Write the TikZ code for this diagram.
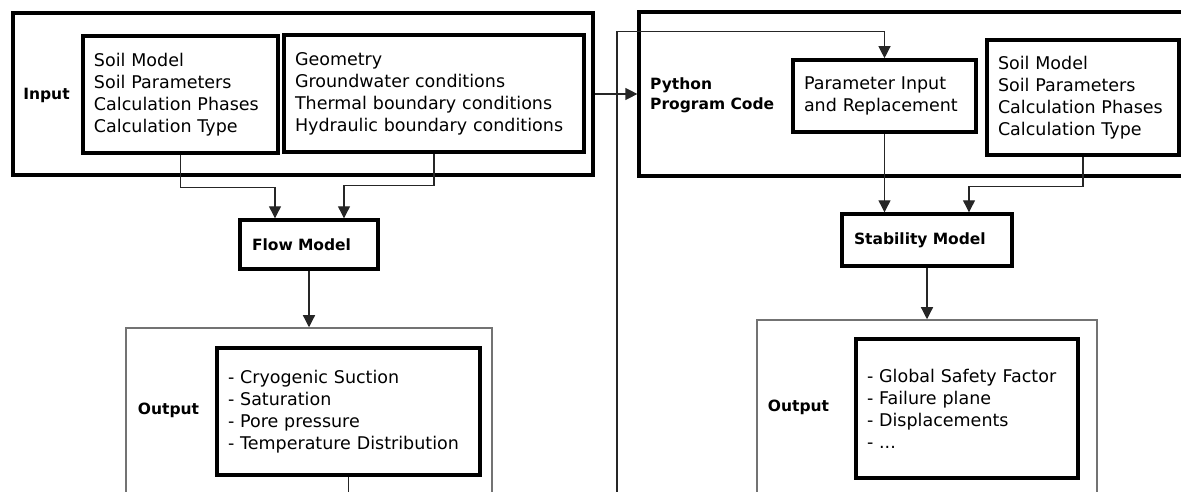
\documentclass[tikz,border=0pt]{standalone}
\usepackage{fontspec}
\setmainfont{DejaVu Sans}
\usetikzlibrary{arrows.meta,calc}

\newcommand\boxfont{\fontsize{17.5bp}{22bp}\selectfont}
\newcommand\tagfont{\bfseries\fontsize{15.5bp}{20bp}\selectfont}

\tikzset{
  outerbox/.style={draw,line width=3.2bp,inner sep=0pt},
  listbox/.style={draw,line width=3.6bp,align=left,inner xsep=11bp,inner ysep=0pt,font=\boxfont},
  modelbox/.style={draw,line width=3.4bp,align=left,inner xsep=12bp,inner ysep=0pt,font=\tagfont},
  resultbox/.style={draw=black!55,line width=1.5bp,inner sep=0pt},
  tag/.style={font=\tagfont,align=left,inner sep=0pt},
  link/.style={draw=black!85,line width=1.2bp},
  flowline/.style={link,-{Triangle[length=12bp,width=12bp]}}
}

\begin{document}
\begin{tikzpicture}[x=1bp,y=-1bp]
\useasboundingbox (0,0) rectangle (1181,492);
\clip (0,0) rectangle (1181,492);

% input block
\node[outerbox,minimum width=580bp,minimum height=162bp] (inBox) at (303,94) {};
\node[tag] (inTag) at (46.5,95) {Input};
\node[listbox,text width=173bp,minimum height=117bp] (soilA) at (180.5,94.5)
  {Soil Model\\Soil Parameters\\Calculation Phases\\Calculation Type};
\node[listbox,text width=278bp,minimum height=117bp] (geoA) at (434,93.5)
  {Geometry\\Groundwater conditions\\Thermal boundary conditions\\Hydraulic boundary conditions};

% flow model and its results
\node[modelbox,text width=114bp,minimum height=49bp] (flow) at (309,244.5) {Flow Model};
\node[resultbox,minimum width=366bp,minimum height=202bp] (outA) at (309,429) {};
\node[tag] (outTagA) at (168.5,410) {Output};
\node[listbox,text width=241bp,minimum height=127bp] (resA) at (348.5,411.5)
  {- Cryogenic Suction\\- Saturation\\- Pore pressure\\- Temperature Distribution};

% python block
\node[outerbox,minimum width=566bp,minimum height=164bp] (pyBox) at (922,94) {};
\node[tag,anchor=west] (pyTag) at (650,95) {Python\\Program Code};
\node[listbox,text width=161bp,minimum height=72bp] (param) at (884.5,96)
  {Parameter Input\\and Replacement};
\node[listbox,text width=170bp,minimum height=115bp] (soilB) at (1083,97.5)
  {Soil Model\\Soil Parameters\\Calculation Phases\\Calculation Type};

% stability model and its results
\node[modelbox,text width=146bp,minimum height=52bp] (stab) at (927,240) {Stability Model};
\node[resultbox,minimum width=340bp,minimum height=210bp] (outB) at (927,425) {};
\node[tag] (outTagB) at (798.5,407) {Output};
\node[listbox,text width=200bp,minimum height=139bp] (resB) at (967,408.5)
  {- Global Safety Factor\\- Failure plane\\- Displacements\\- ...};

% loose ends below the page
\coordinate (back) at (617,520);
\coordinate (resAend) at (348.5,520);

% connectors
\draw[flowline] (soilA.south) -- ++(0,33) -| ($(flow.north)+(-34,0)$);
\draw[flowline] (geoA.south) -- ++(0,32) -| ($(flow.north)+(35,0)$);
\draw[flowline] (flow) -- (outA);
\draw[flowline] (inBox) -- (pyBox);
\draw[flowline] (back) |- ($(param.north)+(0,-27)$) -- (param.north);
\draw[flowline] (param.south) -- (param.south |- stab.north);
\draw[flowline] (soilB.south) -- ++(0,30) -| ($(stab.north)+(42,0)$);
\draw[flowline] (stab) -- (outB);
\draw[link] (resA) -- (resAend);
\end{tikzpicture}
\end{document}
